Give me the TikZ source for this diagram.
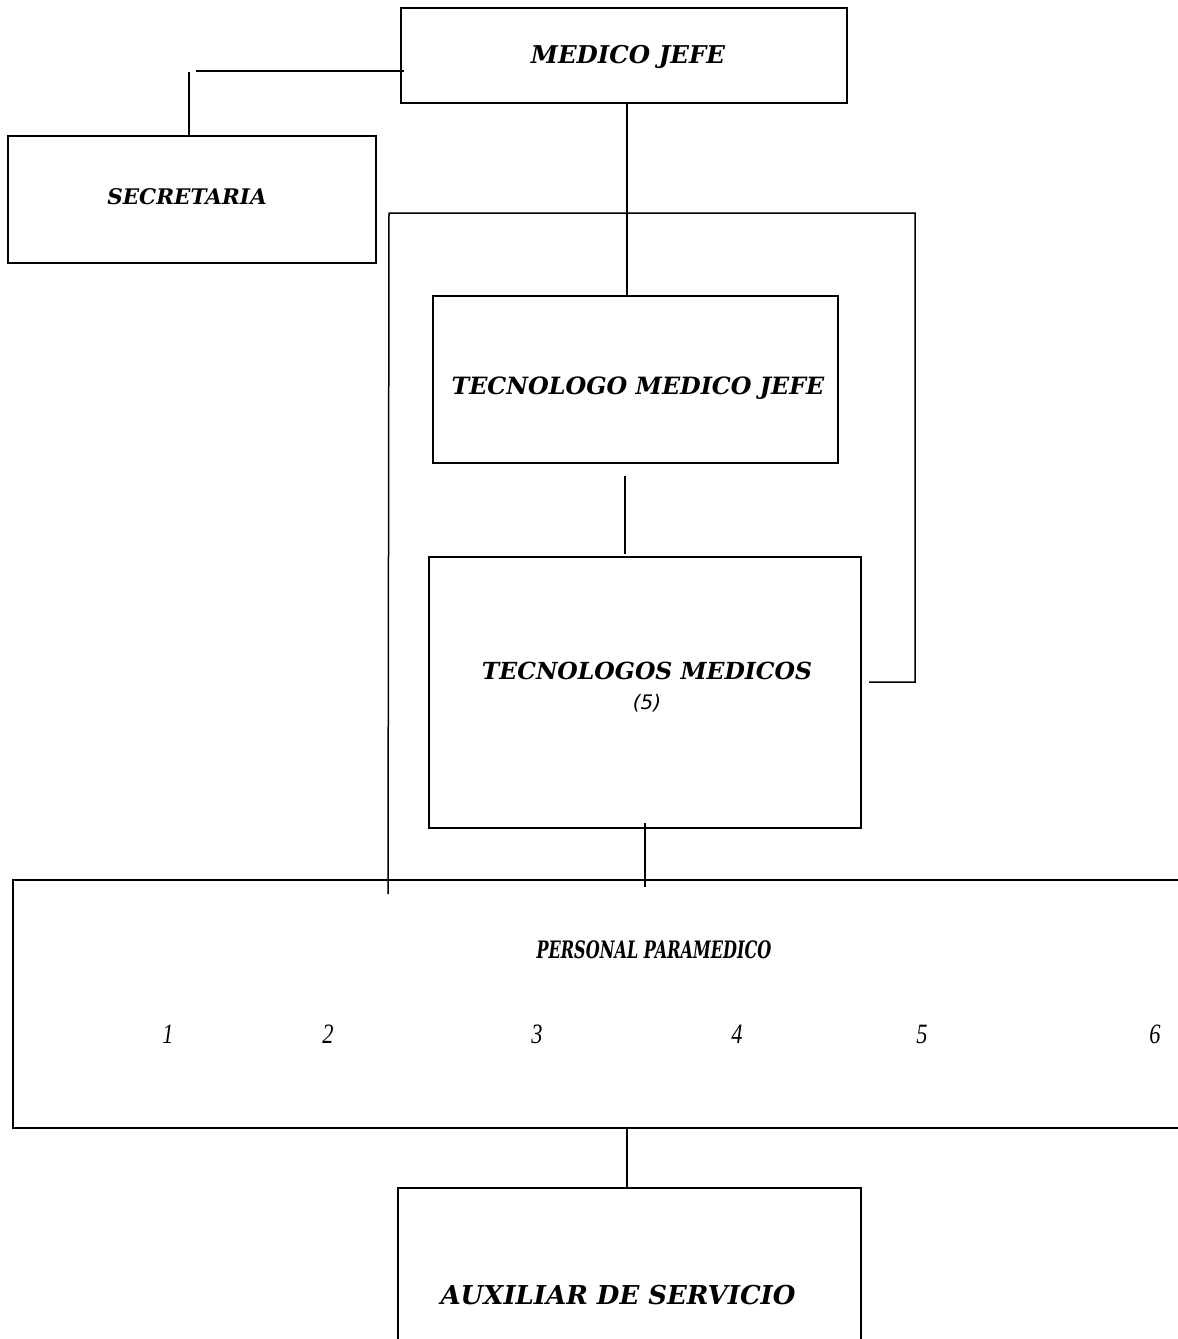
\documentclass[tikz,border=0pt]{standalone}
\usepackage{fontspec}
\usepackage{graphicx}
\setmainfont{DejaVu Serif}
\newfontfamily\numfont{Liberation Serif}
\newfontfamily\subfont{DejaVu Sans}
\usetikzlibrary{calc}
\tikzset{
  box/.style={draw, line width=2pt, rectangle, inner sep=0pt},
  lbl/.style={inner sep=0pt, font=\fontsize{#1}{#1}\selectfont\bfseries\itshape},
  lbl/.default=24,
  num/.style={inner sep=0pt, font=\numfont\fontsize{28}{30}\selectfont\itshape},
  conn/.style={line width=1.5pt}
}
\begin{document}
\begin{tikzpicture}[x=1pt,y=-1pt]
\useasboundingbox (0,0) rectangle (1178,1339);
\clip (0,0) rectangle (1178,1339);
% boxes
\node[box, minimum width=446, minimum height=95] (mj) at (624,55.5) {};
\node[lbl=24.5] (mjt) at (628,57) {MEDICO JEFE};
\node[box, minimum width=368, minimum height=127] (sec) at (192,199.5) {};
\node[lbl=21.5] (sect) at (187,197) {SECRETARIA};
\node[box, minimum width=405, minimum height=167] (tmj) at (635.5,379.5) {};
\node[lbl=23.8] (tmjt) at (638,388) {TECNOLOGO MEDICO JEFE};
\node[box, minimum width=432, minimum height=271] (tm) at (645,692.5) {};
\node[lbl=23.5] (tmt) at (647,671) {TECNOLOGOS MEDICOS};
\node[inner sep=0pt, font=\subfont\fontsize{20}{22}\selectfont\itshape] (tmn) at (647,703) {(5)};
\node[box, minimum width=1200, minimum height=248] (pp) at (613,1004) {};
\node[lbl=24] (ppt) at (654,950) {\scalebox{0.67}[1]{PERSONAL PARAMEDICO}};
\node[num] (n1) at (168,1034) {\scalebox{0.8}[1]{1}};
\node[num] (n2) at (328,1034) {\scalebox{0.8}[1]{2}};
\node[num] (n3) at (537,1034) {\scalebox{0.8}[1]{3}};
\node[num] (n4) at (737,1034) {\scalebox{0.8}[1]{4}};
\node[num] (n5) at (922,1034) {\scalebox{0.8}[1]{5}};
\node[num] (n6) at (1155,1034) {\scalebox{0.8}[1]{6}};
\node[box, minimum width=463, minimum height=200] (aux) at (629.5,1288) {};
\node[lbl=26] (auxt) at (618,1295) {AUXILIAR DE SERVICIO};
% connectors
\coordinate (secTop) at ($(sec.north)+(-3,-63)$);
\draw[conn] ($(sec.north)+(-3,0)$) -- (secTop);
\draw[conn] ($(mj.west)+(4,15.5)$) -- ($(secTop)+(7,-1)$);
\draw[conn] ($(mj.south)+(3,0)$) -- ($(tmj.north)+(-8.5,0)$);
\draw[conn] ($(tmj.south)+(-10.5,12)$) -- ($(tm.north)+(-20,-2)$);
\draw[conn] ($(tm.south)+(0,-6)$) -- ($(pp.north)+(32,8)$);
\draw[conn] ($(pp.south)+(14,0)$) -- ($(aux.north)+(-2.5,2)$);
\coordinate (brTL) at (389,213);
\coordinate (brTR) at (915,213);
\draw[conn] ($(pp.north west)+(376,15)$) -- (brTL) -- (brTR) |- ($(tm.east)+(7,-10.5)$);
\end{tikzpicture}
\end{document}
